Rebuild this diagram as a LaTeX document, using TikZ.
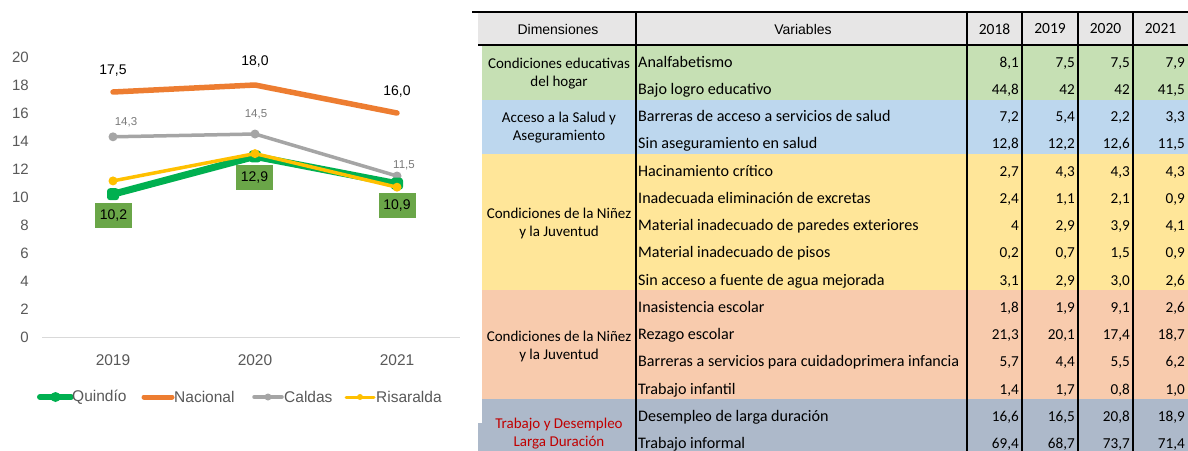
\documentclass[tikz,border=0pt]{standalone}
\usepackage{fontspec}
\usetikzlibrary{calc}
\setmainfont{Liberation Sans}
\newfontfamily\calfont{Carlito}
\definecolor{qgreen}{RGB}{0,176,80}
\definecolor{qbox}{RGB}{106,166,72}
\definecolor{norange}{RGB}{237,125,49}
\definecolor{cgray}{RGB}{165,165,165}
\definecolor{ryellow}{RGB}{255,192,0}
\definecolor{axtext}{RGB}{89,89,89}
\definecolor{axline}{RGB}{217,217,217}
\definecolor{hdrgray}{RGB}{231,230,230}
\definecolor{fgreen}{RGB}{198,224,180}
\definecolor{fblue}{RGB}{189,215,238}
\definecolor{fyellow}{RGB}{255,230,153}
\definecolor{fpeach}{RGB}{248,203,173}
\definecolor{fslate}{RGB}{173,185,202}
\definecolor{dred}{RGB}{192,0,0}
\newcommand\trow[6]{%
  \pgfmathsetmacro\ry{45+27.25*#1+13.625+8.5}%
  \node[vartext] (var#1) at (638,\ry) {#2};
  \node[numtext] (na#1) at (1019,\ry) {#3};
  \node[numtext] (nb#1) at (1075,\ry) {#4};
  \node[numtext] (nc#1) at (1130,\ry) {#5};
  \node[numtext] (nd#1) at (1185,\ry) {#6};
}
\begin{document}
\begin{tikzpicture}[x=1pt,y=-1pt,
  ytick/.style={anchor=east,inner sep=0pt,text=axtext,font=\fontsize{15}{18}\selectfont},
  yeartxt/.style={inner sep=0pt,text=axtext,font=\fontsize{15.5}{18}\selectfont},
  legtxt/.style={anchor=west,inner sep=0pt,text=axtext,font=\fontsize{15.5}{18}\selectfont},
  natlab/.style={inner sep=0pt,text=black,font=\fontsize{14}{17}\selectfont},
  callab/.style={inner sep=0pt,text=axtext!80,font=\fontsize{11.5}{14}\selectfont},
  qlab/.style={fill=qbox,minimum width=37pt,minimum height=25pt,inner sep=0pt,text=black,font=\fontsize{14}{17}\selectfont},
  vartext/.style={anchor=base west,inner sep=0pt,font=\calfont\fontsize{16.1}{18}\selectfont},
  numtext/.style={anchor=base east,inner sep=0pt,font=\calfont\fontsize{15.2}{17}\selectfont},
  dimtext/.style={align=center,inner sep=0pt,font=\calfont\fontsize{15}{18}\selectfont},
  hdrtext/.style={inner sep=0pt,font=\fontsize{14}{17}\selectfont},
  hdryear/.style={inner sep=0pt,font=\calfont\fontsize{15.5}{17}\selectfont},
  vline/.style={line width=1.3pt,black},
  hline/.style={line width=2.6pt,black}]
\useasboundingbox (0,0) rectangle (1188,450);
\fill[white] (0,0) rectangle (1188,450);
% ---------------- chart ----------------
\foreach \v in {0,2,...,20} {
  \node[ytick] (yt\v) at (29,{337-14*\v}) {\v};
}
\coordinate (axl) at (42,337);
\coordinate (axr) at (460,337);
\draw[axline,line width=1pt] (axl) -- (axr);
\node[yeartxt] (yr19) at (113,360) {2019};
\node[yeartxt] (yr20) at (255,360) {2020};
\node[yeartxt] (yr21) at (397,360) {2021};
\begin{scope}[shift={(0,337)},y={(0pt,14pt)}]
  \coordinate (n1) at (113,17.5); \coordinate (n2) at (255,18.0); \coordinate (n3) at (397,16.0);
  \coordinate (c1) at (113,14.3); \coordinate (c2) at (255,14.5); \coordinate (c3) at (397,11.5);
  \coordinate (q1) at (113,10.2); \coordinate (q2) at (255,12.9); \coordinate (q3) at (397,10.95);
  \coordinate (r1) at (113,11.15); \coordinate (r2) at (255,13.1); \coordinate (r3) at (397,10.7);
\end{scope}
\draw[norange,line width=5.5pt,line join=round,line cap=round] (n1) -- (n2) -- (n3);
\draw[cgray,line width=3.5pt,line join=round] (c1) -- (c2) -- (c3);
\foreach \p in {c1,c2,c3} \fill[cgray] (\p) circle (4.5pt);
\draw[qgreen,line width=7pt,line join=round] (q1) -- (q2) -- (q3);
\foreach \p in {q1,q2,q3} \fill[qgreen,rounded corners=3pt] ([shift={(-6pt,-6pt)}]\p) rectangle ([shift={(6pt,6pt)}]\p);
\draw[ryellow,line width=3.5pt,line join=round] (r1) -- (r2) -- (r3);
\foreach \p in {r1,r2,r3} \fill[ryellow] (\p) circle (4.5pt);
% data labels
\node[natlab] (ln1) at (113,71) {17,5};
\node[natlab] (ln2) at (255,62) {18,0};
\node[natlab] (ln3) at (397,92) {16,0};
\node[callab] (lc1) at (126,122) {14,3};
\node[callab] (lc2) at (256,114) {14,5};
\node[callab] (lc3) at (404,165) {11,5};
\node[qlab] (lq1) at (113.5,215.5) {10,2};
\node[qlab] (lq2) at (254.5,177.5) {12,9};
\node[qlab] (lq3) at (397,205.5) {10,9};
% legend
\coordinate (lg1a) at (40,397); \coordinate (lg1b) at (71,397);
\draw[qgreen,line width=6pt,line cap=round] (lg1a) -- (lg1b);
\fill[qgreen] ($(lg1a)!0.5!(lg1b)$) circle (5pt);
\node[legtxt] (lgt1) at (72,397) {Quindío};
\coordinate (lg2a) at (144,397); \coordinate (lg2b) at (172,397);
\draw[norange,line width=5pt,line cap=round] (lg2a) -- (lg2b);
\node[legtxt] (lgt2) at (174,397) {Nacional};
\coordinate (lg3a) at (254,397); \coordinate (lg3b) at (282,397);
\draw[cgray,line width=3.5pt,line cap=round] (lg3a) -- (lg3b);
\fill[cgray] ($(lg3a)!0.5!(lg3b)$) circle (3.5pt);
\node[legtxt] (lgt3) at (284,397) {Caldas};
\coordinate (lg4a) at (346,397); \coordinate (lg4b) at (374,397);
\draw[ryellow,line width=3pt,line cap=round] (lg4a) -- (lg4b);
\fill[ryellow] ($(lg4a)!0.5!(lg4b)$) circle (3pt);
\node[legtxt] (lgt4) at (376,397) {Risaralda};
% ---------------- table ----------------
\begin{scope}
\clip (470,0) rectangle (1188,450);
\fill[hdrgray] (478,12) rectangle (1190,45);
\fill[fgreen] (482,45) rectangle (1190,99.5);
\fill[fblue] (482,99.5) rectangle (1190,154);
\fill[fyellow] (482,154) rectangle (1190,290.25);
\fill[fpeach] (482,290.25) rectangle (1190,399.25);
\fill[fslate] (482,399.25) rectangle (1190,460);
\fill[fslate] (478,423) rectangle (483,460);
\foreach \x in {636,967,1022,1078,1133,1188.5} {
  \draw[vline] (\x,12) -- (\x,452);
}
\draw[hline] (472,12) -- (1190,12);
\draw[hline] (478,45) -- (1190,45);
\node[hdrtext] (hdim) at (558,29) {Dimensiones};
\node[hdrtext] (hvar) at (803,29) {Variables};
\node[hdryear] (h18) at (994.5,29) {2018};
\node[hdryear] (h19) at (1050,29) {2019};
\node[hdryear] (h20) at (1105.5,29) {2020};
\node[hdryear] (h21) at (1160.5,29) {2021};
\node[dimtext] (dim1) at (559,74) {Condiciones educativas\\del hogar};
\node[dimtext] (dim2) at (559,128) {Acceso a la Salud y\\Aseguramiento};
\node[dimtext] (dim3) at (559,223) {Condiciones de la Niñez\\y la Juventud};
\node[dimtext] (dim4) at (559,346.5) {Condiciones de la Niñez\\y la Juventud};
\node[dimtext,text=dred] (dim5) at (559,433.5) {Trabajo y Desempleo\\Larga Duración};
\trow{0}{Analfabetismo}{8,1}{7,5}{7,5}{7,9}
\trow{1}{Bajo logro educativo}{44,8}{42}{42}{41,5}
\trow{2}{Barreras de acceso a servicios de salud}{7,2}{5,4}{2,2}{3,3}
\trow{3}{Sin aseguramiento en salud}{12,8}{12,2}{12,6}{11,5}
\trow{4}{Hacinamiento crítico}{2,7}{4,3}{4,3}{4,3}
\trow{5}{Inadecuada eliminación de excretas}{2,4}{1,1}{2,1}{0,9}
\trow{6}{Material inadecuado de paredes exteriores}{4}{2,9}{3,9}{4,1}
\trow{7}{Material inadecuado de pisos}{0,2}{0,7}{1,5}{0,9}
\trow{8}{Sin acceso a fuente de agua mejorada}{3,1}{2,9}{3,0}{2,6}
\trow{9}{Inasistencia escolar}{1,8}{1,9}{9,1}{2,6}
\trow{10}{Rezago escolar}{21,3}{20,1}{17,4}{18,7}
\trow{11}{Barreras a servicios para cuidadoprimera infancia}{5,7}{4,4}{5,5}{6,2}
\trow{12}{Trabajo infantil}{1,4}{1,7}{0,8}{1,0}
\trow{13}{Desempleo de larga duración}{16,6}{16,5}{20,8}{18,9}
\trow{14}{Trabajo informal}{69,4}{68,7}{73,7}{71,4}
\end{scope}
\end{tikzpicture}
\end{document}
